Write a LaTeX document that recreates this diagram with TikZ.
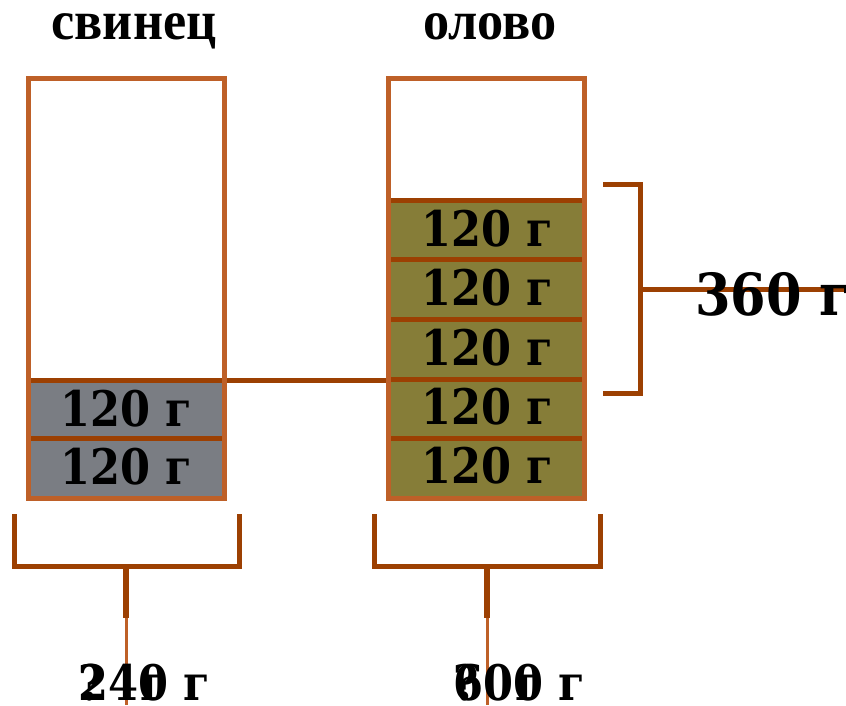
\documentclass[tikz,border=0pt]{standalone}
\usepackage{fontspec}
\setmainfont{Liberation Serif}
\newfontfamily\numfont{DejaVu Serif}
\definecolor{framec}{RGB}{190,96,40}
\definecolor{divc}{RGB}{156,64,2}
\definecolor{leadc}{RGB}{122,125,131}
\definecolor{tinc}{RGB}{134,125,56}
\tikzset{
  framebox/.style={draw=framec, line width=5pt},
  divline/.style={draw=divc, line width=5pt},
  brk/.style={draw=divc, line width=5pt},
  stemthin/.style={draw=framec, line width=3pt},
  val/.style={font=\numfont\bfseries\fontsize{49}{49}\selectfont, inner sep=0pt, xscale=0.88},
  bigval/.style={font=\numfont\bfseries\fontsize{58}{58}\selectfont, inner sep=0pt, xscale=0.88},
  botval/.style={font=\numfont\bfseries\fontsize{49}{49}\selectfont, inner sep=0pt, xscale=0.88, anchor=base west},
  title/.style={font=\bfseries\fontsize{55}{55}\selectfont, inner sep=0pt, xscale=0.95, anchor=base},
}
\begin{document}
\begin{tikzpicture}[x=1pt,y=-1pt]
\useasboundingbox (0,0) rectangle (846,705);
% titles
\node[title] (tL) at (134,39) {свинец};
\node[title] (tR) at (490,39) {олово};
% fills
\fill[leadc] (28,380) rectangle (224,498);
\fill[tinc] (388,200) rectangle (584,498);
% dividers
\draw[divline] (30,380) -- (388,380);
\draw[divline] (30,438) -- (222,438);
\foreach \y in {200,259,319,379,438} \draw[divline] (390,\y) -- (582,\y);
% frames
\node[framebox, minimum width=196pt, minimum height=420pt, inner sep=0pt] (boxL) at (126,288) {};
\node[framebox, minimum width=196pt, minimum height=420pt, inner sep=0pt] (boxR) at (486,288) {};
% values
\node[val] (l1) at (126,409) {120 г};
\node[val] (l2) at (126,467) {120 г};
\node[val] (r1) at (487,229) {120 г};
\node[val] (r2) at (487,288) {120 г};
\node[val] (r3) at (487,348) {120 г};
\node[val] (r4) at (487,407) {120 г};
\node[val] (r5) at (487,466) {120 г};
% right bracket
\coordinate (bt) at (603,184);
\coordinate (bb) at (603,393);
\coordinate (bm) at (640,289);
\coordinate (be) at (846,289);
\draw[brk] (bt) -- (640,184) -- (640,393) -- (bb);
\draw[brk] (bm) -- (be);
\node[bigval, anchor=west] (s360) at (695,294) {360 г};
% bottom brackets
\coordinate (la) at (14,514);
\coordinate (lb) at (239,514);
\coordinate (lm) at (126,566);
\coordinate (ls) at (126,618);
\coordinate (le) at (126,705);
\draw[brk] (la) -- (14,566) -- (239,566) -- (lb);
\draw[brk, line width=6pt] (lm) -- (ls);
\draw[stemthin] (ls) -- (le);
\coordinate (ra) at (374,514);
\coordinate (rb) at (600,514);
\coordinate (rm) at (487,566);
\coordinate (rs) at (487,618);
\coordinate (re) at (487,705);
\draw[brk] (ra) -- (374,566) -- (600,566) -- (rb);
\draw[brk, line width=6pt] (rm) -- (rs);
\draw[stemthin] (rs) -- (re);
% bottom labels
\node[botval] (b240) at (78,700) {240 г};
\node[botval] (bq1) at (78,700) {?\hspace{0.4em} г};
\node[botval] (b600) at (453,700) {600 г};
\node[botval] (bq2) at (453,700) {?\hspace{0.4em} г};
\end{tikzpicture}
\end{document}
